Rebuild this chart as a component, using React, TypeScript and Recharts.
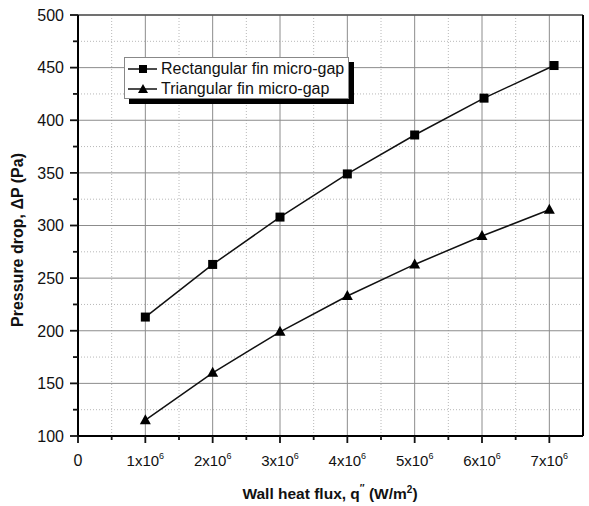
import React from "react";
import { LineChart, Line, XAxis, YAxis, CartesianGrid } from "recharts";

// wall heat flux (W/m2) and pressure drop (Pa)
const rectFlux = [1e6, 2e6, 3e6, 4e6, 5e6, 6.03e6, 7.07e6];
const rectDrop = [213, 263, 308, 349, 386, 421, 452];
const triFlux = [1e6, 2e6, 3e6, 4e6, 5e6, 6e6, 7e6];
const triDrop = [115, 160, 199, 233, 263, 290, 315];

const xMajor = [0, 1e6, 2e6, 3e6, 4e6, 5e6, 6e6, 7e6];
const xMinor = [0.5e6, 1.5e6, 2.5e6, 3.5e6, 4.5e6, 5.5e6, 6.5e6];
const yMajor = [100, 150, 200, 250, 300, 350, 400, 450, 500];
const yMinor = [125, 175, 225, 275, 325, 375, 425, 475];

const FONT = "'Liberation Sans', Arial, Helvetica, sans-serif";
const INK = "#111";

const rectData = rectFlux.map((q, i) => ({ q, dp: rectDrop[i] }));
const triData = triFlux.map((q, i) => ({ q, dp: triDrop[i] }));

const allX = [...xMajor, ...xMinor];
const allY = [...yMajor, ...yMinor];

function BottomTick(props: any) {
  const { x, y, payload } = props;
  const v = payload.value as number;
  const major = xMajor.includes(v);
  return (
    <g>
      <line x1={x} x2={x} y1={y} y2={y + (major ? 7 : 4)} stroke={INK} strokeWidth={1.8} />
      {major && v === 0 && (
        <text x={x} y={y + 30} textAnchor="middle" fontSize={16} fill={INK} fontFamily={FONT}>
          0
        </text>
      )}
      {major && v !== 0 && (
        <text x={x} y={y + 30} textAnchor="middle" fontSize={15} fill={INK} fontFamily={FONT}>
          {v / 1e6}x10
          <tspan dy={-7} fontSize={9}>6</tspan>
        </text>
      )}
    </g>
  );
}

function TopTick(props: any) {
  const { x, y, payload } = props;
  const major = xMajor.includes(payload.value);
  return <line x1={x} x2={x} y1={y} y2={y + (major ? 7 : 4)} stroke={INK} strokeWidth={1.4} />;
}

function LeftTick(props: any) {
  const { x, y, payload } = props;
  const v = payload.value as number;
  const major = yMajor.includes(v);
  return (
    <g>
      <line x1={x} x2={x - (major ? 8 : 5)} y1={y} y2={y} stroke={INK} strokeWidth={1.8} />
      {major && (
        <text x={x - 14} y={y} dy="0.36em" textAnchor="end" fontSize={16} fill={INK} fontFamily={FONT}>
          {v}
        </text>
      )}
    </g>
  );
}

function RightTick(props: any) {
  const { x, y, payload } = props;
  const major = yMajor.includes(payload.value);
  return <line x1={x} x2={x - (major ? 7 : 4)} y1={y} y2={y} stroke={INK} strokeWidth={1.4} />;
}

function SquareDot(props: any) {
  const { cx, cy, index } = props;
  return <rect key={"s" + index} x={cx - 4.5} y={cy - 4.5} width={9} height={9} fill="#000" />;
}

function TriangleDot(props: any) {
  const { cx, cy, index } = props;
  return (
    <path
      key={"t" + index}
      d={`M${cx},${cy - 6} L${cx + 5.5},${cy + 4} L${cx - 5.5},${cy + 4} Z`}
      fill="#000"
    />
  );
}

function LegendBox() {
  const row = (label: string, marker: React.ReactNode) => (
    <div style={{ display: "flex", alignItems: "center", height: 20, whiteSpace: "nowrap" }}>
      <svg width={30} height={12} style={{ marginRight: 3, flexShrink: 0 }}>
        <line x1={0} x2={29} y1={6} y2={6} stroke={INK} strokeWidth={1.5} />
        {marker}
      </svg>
      <span>{label}</span>
    </div>
  );
  return (
    <div
      style={{
        position: "absolute",
        left: 124,
        top: 57,
        width: 225,
        height: 42,
        background: "#fff",
        border: "1px solid #888",
        boxShadow: "5px 5px 0 #000",
        fontFamily: FONT,
        fontSize: 16,
        color: INK,
        paddingLeft: 3,
        paddingTop: 1,
        boxSizing: "border-box",
        lineHeight: "18px",
      }}
    >
      {row("Rectangular fin micro-gap", <rect x={11} y={2} width={8} height={8} fill="#000" />)}
      {row("Triangular fin micro-gap", <path d="M15,1 L20,10 L10,10 Z" fill="#000" />)}
    </div>
  );
}

export default function App() {
  return (
    <div style={{ position: "absolute", left: 0, top: 0, width: 589, height: 506, background: "#fff" }}>
      <LineChart width={589} height={506} margin={{ top: 0, right: 0, left: 0, bottom: 0 }}>
        <CartesianGrid
          horizontalValues={yMinor}
          verticalValues={xMinor}
          stroke="#b8b8b8"
          strokeDasharray="1 2"
        />
        <CartesianGrid horizontalValues={yMajor} verticalValues={xMajor} stroke="#8c8c8c" strokeWidth={1} />
        <XAxis
          dataKey="q"
          type="number"
          domain={[0, 7.5e6]}
          ticks={allX}
          interval={0}
          height={70}
          tickSize={0}
          tickMargin={0}
          tickLine={false}
          tick={<BottomTick />}
          axisLine={{ stroke: "#000", strokeWidth: 2 }}
          allowDataOverflow
          label={{
            content: () => (
              <text x={330} y={499} textAnchor="middle" fontSize={15.5} fontWeight="bold" fill={INK} fontFamily={FONT}>
                Wall heat flux, q
                <tspan dy={-7} fontSize={10}>″</tspan>
                <tspan dy={7}> (W/m</tspan>
                <tspan dy={-6} fontSize={10}>2</tspan>
                <tspan dy={6}>)</tspan>
              </text>
            ),
          }}
        />
        <XAxis
          xAxisId="top"
          dataKey="q"
          type="number"
          orientation="top"
          domain={[0, 7.5e6]}
          ticks={allX}
          interval={0}
          height={15}
          tickSize={0}
          tickMargin={0}
          tickLine={false}
          tick={<TopTick />}
          axisLine={{ stroke: "#555", strokeWidth: 1.5 }}
        />
        <YAxis
          type="number"
          domain={[100, 500]}
          ticks={allY}
          interval={0}
          width={78}
          tickSize={0}
          tickMargin={0}
          tickLine={false}
          tick={<LeftTick />}
          axisLine={{ stroke: "#000", strokeWidth: 2 }}
          label={{
            content: () => (
              <text
                x={23}
                y={240}
                transform="rotate(-90 23 240)"
                textAnchor="middle"
                fontSize={16}
                fontWeight="bold"
                fill={INK}
                fontFamily={FONT}
              >
                Pressure drop, ΔP (Pa)
              </text>
            ),
          }}
        />
        <YAxis
          yAxisId="right"
          type="number"
          orientation="right"
          domain={[100, 500]}
          ticks={allY}
          interval={0}
          width={6}
          tickSize={0}
          tickMargin={0}
          tickLine={false}
          tick={<RightTick />}
          axisLine={{ stroke: "#000", strokeWidth: 2 }}
        />
        <Line
          data={rectData}
          dataKey="dp"
          type="linear"
          stroke={INK}
          strokeWidth={1.5}
          dot={SquareDot}
          activeDot={false}
          isAnimationActive={false}
        />
        <Line
          data={triData}
          dataKey="dp"
          type="linear"
          stroke={INK}
          strokeWidth={1.5}
          dot={TriangleDot}
          activeDot={false}
          isAnimationActive={false}
        />
      </LineChart>
      <LegendBox />
    </div>
  );
}
